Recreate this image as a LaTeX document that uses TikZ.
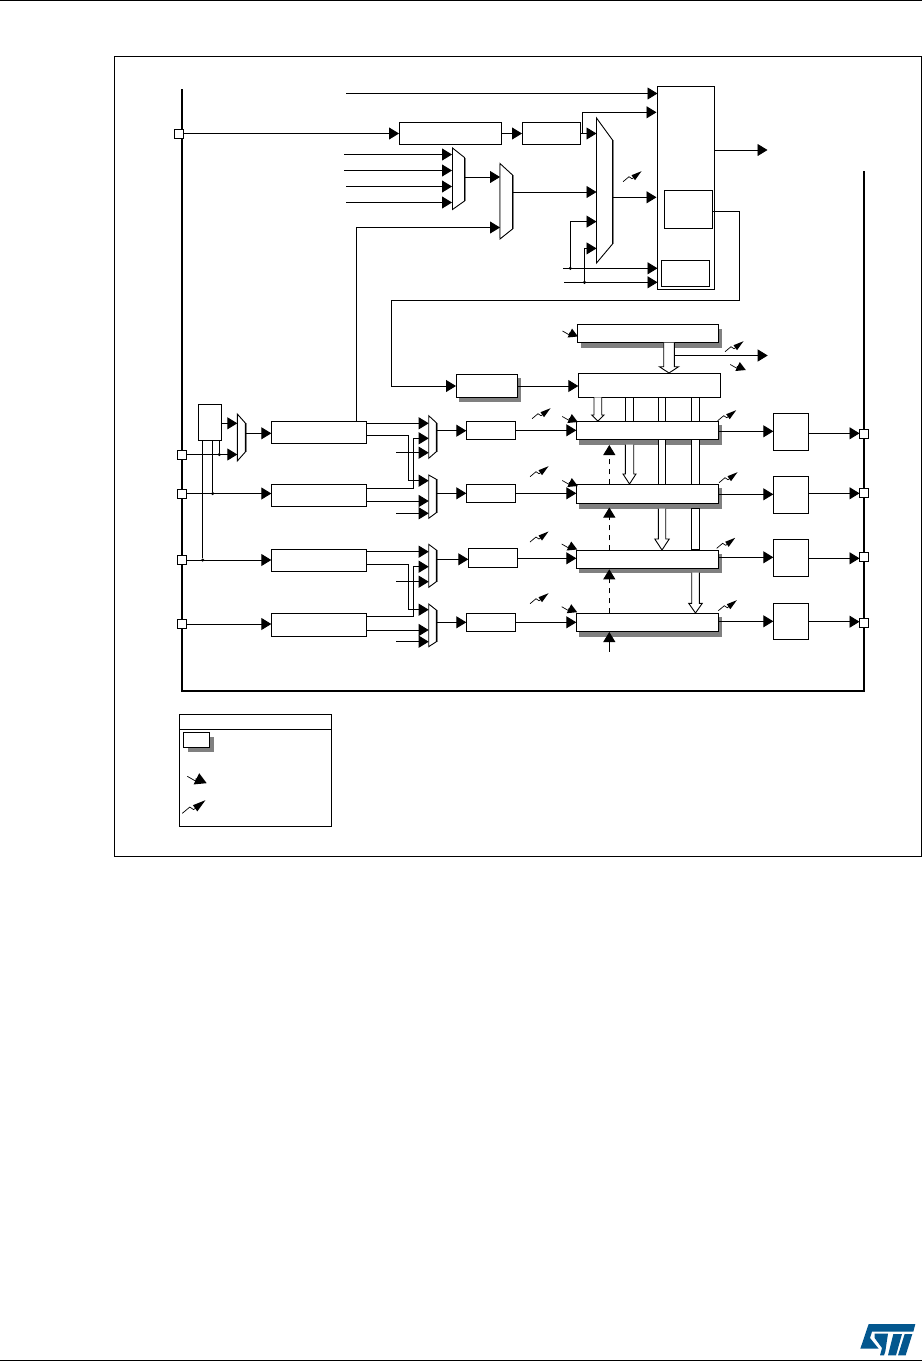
\documentclass[tikz,border=0pt]{standalone}
\usetikzlibrary{arrows.meta}
\definecolor{shadowgray}{gray}{0.5}
\definecolor{stblue}{HTML}{03578F}
\tikzset{
  wire/.style={line width=0.9pt,line join=miter},
  arr/.style={wire,-{Triangle[length=10pt,width=12pt]}},
  bxs/.style={draw,fill=white,line width=0.9pt,inner sep=0pt,outer sep=0pt},
  pinbox/.style={draw,fill=white,line width=0.9pt,inner sep=0pt,outer sep=0pt,minimum width=9pt,minimum height=9pt},
  busbar/.style={draw,fill=white,line width=0.9pt,line join=miter},
  shadowfill/.style={fill=shadowgray},
  dot/.style={circle,fill=black,inner sep=0pt,outer sep=0pt,minimum size=3.4pt},
  chain/.style={line width=2pt,line cap=butt},
}
% \bx[style]{name}{x1}{y1}{x2}{y2}
\newcommand{\bx}[6][bxs]{%
  \pgfmathsetmacro{\bxw}{#5-#3}\pgfmathsetmacro{\bxh}{#6-#4}%
  \pgfmathsetmacro{\bxcx}{(#5+#3)/2}\pgfmathsetmacro{\bxcy}{(#6+#4)/2}%
  \node[#1,minimum width=\bxw pt,minimum height=\bxh pt] (#2) at (\bxcx,\bxcy) {};}
% \sbx{name}{x1}{y1}{x2}{y2}{dx}{dy}: box with drop shadow
\newcommand{\sbx}[7]{%
  \fill[shadowfill] (#2+#6,#3+#7) rectangle (#4+#6,#5+#7);
  \bx{#1}{#2}{#3}{#4}{#5}}
% \mux{name}{xl}{xr}{y top left}{y top right}{y bottom right}{y bottom left}
\newcommand{\mux}[7]{%
  \draw[shadowgray,line width=1pt] (#3+1,#5) -- (#3+1,#6);
  \draw[bxs] (#2,#4) -- (#3,#5) -- (#3,#6) -- (#2,#7) -- cycle;
  \bx[inner sep=0pt,outer sep=0pt]{#1}{#2}{#4}{#3}{#7}}
% lightning-with-arrow symbols
\newcommand{\zig}[3][1]{%
  \begin{scope}[shift={(#2,#3)},scale=#1]
    \draw[line width=0.7pt] (0,0) -- (6,-5) -- (9,-3) -- (12,-5);
    \fill (18.5,-10.5) -- (8.5,-6.5) -- (12,-1.5) -- cycle;
  \end{scope}}
\newcommand{\irq}[3][1]{%
  \begin{scope}[shift={(#2,#3)},scale=#1]
    \draw[line width=0.7pt] (0,0) -- (7,4) -- (7,2) -- (9,2);
    \fill (15.5,5.5) -- (5,6.5) -- (9.5,-2.5) -- cycle;
  \end{scope}}
% \barseg{x1}{x2}{ytop}{ybottom}: plain bus bar;  \harr{x1}{x2}{ytop}{ytip}{ybase}{flare}: hollow arrow
\newcommand{\barseg}[4]{\draw[busbar] (#1,#3) rectangle (#2,#4);}
\newcommand{\harr}[6]{%
  \draw[busbar] (#1,#3) -- (#1,#5) -- (#1-#6,#5) -- ({(#1+#2)/2},#4) -- (#2+#6,#5) -- (#2,#5) -- (#2,#3);}
\begin{document}
\begin{tikzpicture}[x=1pt,y=-1pt]
\useasboundingbox (0,0) rectangle (922,1361);
\fill[white] (0,0) rectangle (922,1361);
% page rules and frame
\draw[line width=1pt] (0,0.5) -- (922,0.5);
\draw[line width=1pt] (0,1360) -- (922,1360);
\draw[line width=1pt] (921.5,56.5) -- (114.5,56.5) -- (114.5,856.5) -- (921.5,856.5) -- cycle;
% boundary of the device
\coordinate (chainL) at (182,89);
\coordinate (chainR) at (864,171);
\draw[chain] (chainL) -- (182,691) -- (864,691) -- (chainR);
% pins
\node[pinbox] (pETR) at (179,133.5) {};
\node[pinbox] (pA) at (182,454.5) {};
\node[pinbox] (pB) at (182,493.5) {};
\node[pinbox] (pC) at (182,560) {};
\node[pinbox] (pD) at (182,624) {};
\node[pinbox] (oA) at (864,434) {};
\node[pinbox] (oB) at (864,493) {};
\node[pinbox] (oC) at (864,557) {};
\node[pinbox] (oD) at (864,622.5) {};
% trigger section
\bx{etrp}{399}{122}{501}{144.5}
\bx{etrf}{522}{122}{580.5}{144.5}
\mux{mA}{452.5}{464.5}{148}{157.5}{201}{209.5}
\mux{mB}{500}{512.5}{163.5}{175}{229}{239}
\draw[shadowgray,line width=0.8pt] (499.5,164) -- (499.5,238);
\mux{mT}{596.5}{612.5}{118}{140}{244}{263}
\bx{slave}{657.5}{86}{714.5}{289.5}
\bx{enc}{664.5}{190}{712.5}{228.3}
\bx{clk}{661.3}{260.3}{709.7}{286.7}
\coordinate (topin) at (346,93.5);
\draw[arr] (topin) -- (slave.west |- topin);
\draw[arr] (pETR.east) -- (etrp.west |- pETR);
\draw[arr] (etrp.east |- pETR) -- (etrf.west |- pETR);
\draw[arr] (etrf.east |- pETR) -- (mT.west |- pETR);
\draw[arr] (582,133.5) -- (582,112.3) -- (656.5,112.3);
\foreach \xa/\ya in {344/154.5,344/170.5,346/186.5,346/202.5}
  \draw[arr] (\xa,\ya) -- (452,\ya);
\draw[arr] (mA.east |- 0,177) -- (mB.west |- 0,177);
\draw[arr] (mB.east |- 0,192) -- (mT.west |- 0,192);
\draw[arr] (mT.east |- 0,197.3) -- (656.5,197.3);
\coordinate (itr1) at (563,268.3);
\coordinate (itr2) at (564,282.3);
\draw[arr] (itr1) -- (slave.west |- itr1);
\draw[arr] (itr2) -- (slave.west |- itr2);
\node[dot] (d1) at (570.3,268.3) {};
\node[dot] (d2) at (584.5,282.3) {};
\draw[arr] (d1) -- (570.3,221.6) -- (596.5,221.6);
\draw[arr] (d2) -- (584.5,248.4) -- (596.5,248.4);
\coordinate (trgo) at (767.5,150);
\draw[arr] (slave.east |- trgo) -- (trgo);
\zig{623}{181.7}
% psc / arr section
\sbx{psc}{456}{374.3}{517.7}{397.7}{3}{4}
\fill[shadowfill] (581,329) rectangle (722.3,347.7);
\bx{arrreg}{577.3}{324.3}{718.7}{342.7}
\bx{cnt}{578.3}{373.3}{720.3}{397.3}
\harr{663.7}{674.3}{342.7}{373}{366.7}{4.3}
\coordinate (upd) at (767.7,355.5);
\draw[arr] (674.3,355.5) coordinate (updstart) -- (upd);
\irq{562.5}{331}
\zig{725}{351.7}
\irq{730.3}{364.5}
\draw[arr] (enc.east |- 0,211.5) -- (739.5,211.5) -- (739.5,300) -- (391.5,300) -- (391.5,386) -- (psc.west |- 0,386);
\draw[arr] (psc.east |- 0,386) -- (cnt.west |- 0,386);
% small selection box and mux
\bx{ti}{198.3}{404.3}{221.7}{440.7}
\mux{mC}{237.3}{245.3}{414}{423}{452}{461}
\draw[arr] (ti.east |- 0,423.3) -- (mC.west |- 0,423.3);
\draw[arr] (pA.east) -- (mC.west |- pA);
\node[dot] (tia) at (219.3,454.5) {};
\node[dot] (tib) at (212.7,493.5) {};
\node[dot] (tic) at (202.7,560) {};
\draw[wire] (ti.south -| tia) -- (tia);
\draw[wire] (ti.south -| tib) -- (tib);
\draw[wire] (ti.south -| tic) -- (tic);
% input filters
\bx{f1}{271.3}{421.3}{366.7}{443.3}
\bx{f2}{271.3}{484.3}{366.7}{506.3}
\bx{f3}{271.3}{549.3}{366.7}{571.3}
\bx{f4}{271.3}{613.3}{366.7}{636.3}
\draw[arr] (mC.east |- 0,433.3) -- (f1.west |- 0,433.3);
\draw[arr] (pB.east) -- (f2.west |- pB);
\draw[arr] (pC.east) -- (f3.west |- pC);
\draw[arr] (pD.east) -- (f4.west |- pD);
\draw[arr] (f1.north -| 356.5,0) -- (356.5,227.5) -- (mB.west |- 0,227.5);
% input muxes
\mux{m1}{428.7}{436.3}{415.7}{422.7}{451.7}{458.3}
\mux{m2}{428.7}{436.3}{475}{479.3}{512.7}{518.3}
\mux{m3}{428.7}{436.3}{544.3}{550}{581.7}{587.3}
\mux{m4}{428.7}{436.3}{604}{610}{641.7}{646.7}
\draw[arr] (f1.east |- 0,423.3) -- (m1.west |- 0,423.3);
\draw[arr] (f1.east |- 0,435) -- (408.7,435) -- (408.7,480.7) -- (m2.west |- 0,480.7);
\draw[arr] (f2.east |- 0,488.3) -- (413.3,488.3) -- (413.3,438.3) -- (m1.west |- 0,438.3);
\draw[arr] (f2.east |- 0,501) -- (m2.west |- 0,501);
\draw[arr] (f3.east |- 0,551.7) -- (m3.west |- 0,551.7);
\draw[arr] (f3.east |- 0,564) -- (408.7,564) -- (408.7,609.7) -- (m4.west |- 0,609.7);
\draw[arr] (f4.east |- 0,616) -- (413.3,616) -- (413.3,566.7) -- (m3.west |- 0,566.7);
\draw[arr] (f4.east |- 0,630) -- (m4.west |- 0,630);
\foreach \ya/\mm in {452.7/m1,513.3/m2,581.7/m3,641.7/m4}
  \draw[arr] (396,\ya) -- (\mm.west |- 0,\ya);
% prescalers of the input channels
\bx{ic1}{466.3}{421.3}{515.7}{439.3}
\bx{ic2}{466.3}{484.3}{515.7}{502.7}
\bx{ic3}{468.3}{548.3}{517.3}{567.3}
\bx{ic4}{466.3}{613.3}{515.7}{631.3}
\draw[arr] (m1.east |- 0,430.7) -- (ic1.west |- 0,430.7);
\draw[arr] (m2.east |- 0,493.3) -- (ic2.west |- 0,493.3);
\draw[arr] (m3.east |- 0,559.3) -- (ic3.west |- 0,559.3);
\draw[arr] (m4.east |- 0,622.3) -- (ic4.west |- 0,622.3);
% capture/compare registers: shadows, buses, then the boxes
\fill[shadowfill] (579,425) rectangle (721.7,444.7);
\fill[shadowfill] (579,488) rectangle (721.7,508.7);
\fill[shadowfill] (579,554) rectangle (721.7,572.7);
\fill[shadowfill] (579,617) rectangle (721.7,636.7);
% buses
\harr{594}{601.7}{397.3}{421}{415}{2.3}
\barseg{625.3}{633.7}{397.3}{421.3}
\harr{625.3}{633.7}{444.7}{484}{474}{2.3}
\barseg{658.3}{665.7}{397.3}{421.3}
\barseg{658.3}{665.7}{439.3}{484}
\harr{658.3}{665.7}{508.7}{550}{539}{3.5}
\barseg{691.7}{699.3}{397.3}{421.3}
\barseg{691.7}{699.3}{439.3}{484}
\barseg{691.7}{699.3}{508.7}{549.5}
\harr{691.7}{699.3}{572.7}{613}{603.3}{3}
% capture boxes
\bx{c1}{576.3}{421.3}{718.3}{439.3}
\bx{c2}{576.3}{484.3}{718.3}{503.3}
\bx{c3}{576.3}{550.3}{718.3}{568.3}
\bx{c4}{576.3}{613.3}{718.3}{631.3}
\draw[arr] (ic1.east |- 0,430.3) -- (c1.west |- 0,430.3);
\draw[arr] (ic2.east |- 0,493.3) -- (c2.west |- 0,493.3);
\draw[arr] (ic3.east |- 0,558.3) -- (c3.west |- 0,558.3);
\draw[arr] (ic4.east |- 0,622.3) -- (c4.west |- 0,622.3);
% dashed links
\coordinate (bk) at (609.3,651.7);
\draw[arr,dash pattern=on 5pt off 5pt] (c2.north -| bk) -- (609.3,445);
\draw[arr,dash pattern=on 5pt off 5pt] (c3.north -| bk) -- (609.3,507.5);
\draw[arr,dash pattern=on 5pt off 5pt] (c4.north -| bk) -- (609.3,569.3);
\draw[arr] (bk) -- (609.3,632);
% output stages
\bx{o1}{773.3}{413.3}{808.7}{450.3}
\bx{o2}{773.3}{476.3}{808.7}{513.3}
\bx{o3}{773.3}{539.3}{808.7}{576.3}
\bx{o4}{773.3}{603.3}{808.7}{639.3}
\draw[arr] (c1.east |- 0,431.3) -- (o1.west |- 0,431.3);
\draw[arr] (c2.east |- 0,494.3) -- (o2.west |- 0,494.3);
\draw[arr] (c3.east |- 0,557.3) -- (o3.west |- 0,557.3);
\draw[arr] (c4.east |- 0,621.3) -- (o4.west |- 0,621.3);
\draw[arr] (o1.east |- 0,433.3) -- (oA.west |- 0,433.3);
\draw[arr] (o2.east |- 0,493.3) -- (oB.west |- 0,493.3);
\draw[arr] (o3.east |- 0,558.3) -- (oC.west |- 0,558.3);
\draw[arr] (o4.east |- 0,621.7) -- (oD.west |- 0,621.7);
% symbols along the channels
\zig{532}{418.7}
\zig{530}{476.7}
\zig{530}{542}
\zig{530}{603.7}
\irq{562.3}{416.5}
\irq{562.3}{480.5}
\irq{561.7}{544}
\irq{561.7}{606.7}
\zig{717.7}{420.7}
\zig{719}{482.7}
\zig{716.7}{548.3}
\zig{718.3}{610.7}
% legend
\bx{legend}{179.3}{714.3}{331.3}{826.7}
\draw[line width=0.9pt] (legend.west |- 0,729.3) -- (legend.east |- 0,729.3);
\sbx{legpin}{183.3}{732.3}{209.7}{747.7}{4.3}{4.3}
\irq[1.25]{187.3}{776.3}
\zig[1.25]{182.3}{813.3}
% logo
\begin{scope}[shift={(852,1318)},x=0.3333pt,y=-0.3333pt]
  \fill[stblue] (50,18) -- (25,92) -- (80,92) -- (54,60) -- (60,41) -- (184,41) -- (190,18) -- cycle;
  \fill[stblue] (68,47) -- (108,47) -- (100,100) -- (96,112) -- (84,112) -- (90,90) -- (68,60) -- cycle;
  \fill[stblue] (124,48) -- (150,48) -- (132,112) -- (108,112) -- cycle;
  \fill[stblue] (158,48) -- (181,48) -- (161,112) -- (138,112) -- cycle;
\end{scope}
\end{tikzpicture}
\end{document}
